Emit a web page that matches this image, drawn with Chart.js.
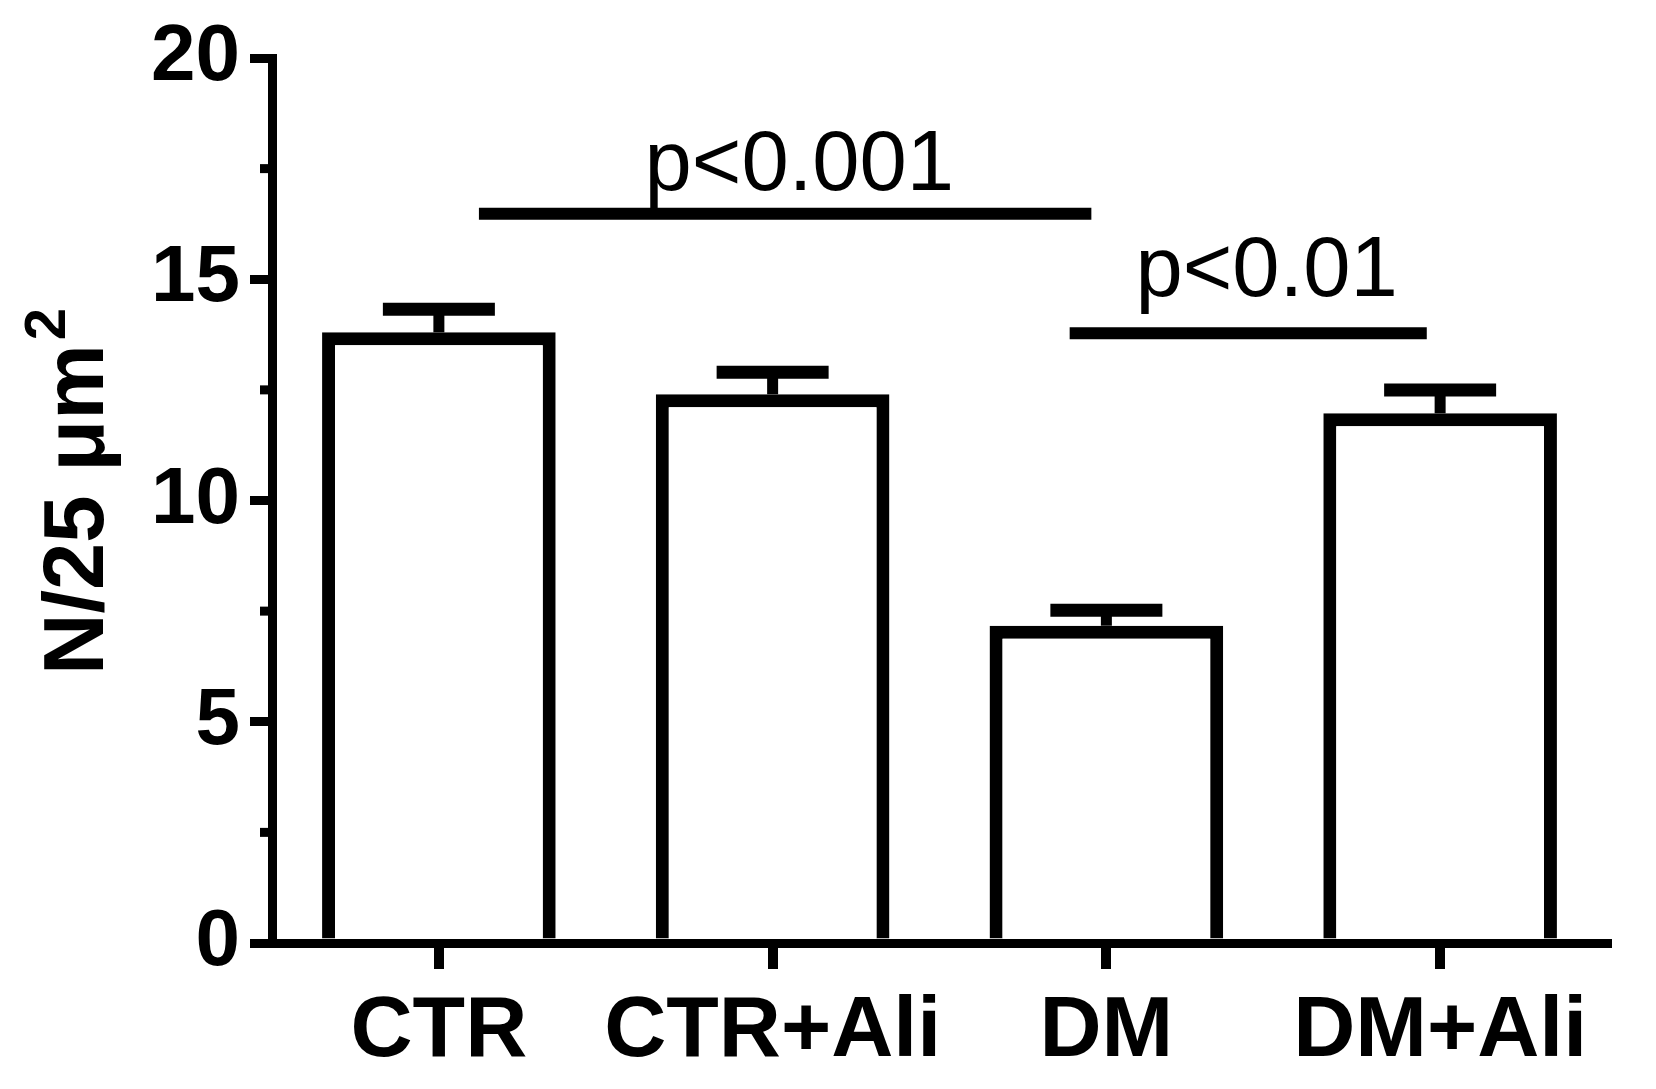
<!DOCTYPE html>
<html><head><meta charset="utf-8">
<script src="https://cdn.jsdelivr.net/npm/chart.js@4.4.1/dist/chart.umd.min.js"></script>
<style>
html,body{margin:0;padding:0;background:#fff}
#wrap{width:1656px;height:1089px}
</style></head>
<body><div id="wrap"><canvas id="c" width="1656" height="1089"></canvas></div>
<script>
// values
const groups=['CTR','CTR+Ali','DM','DM+Ali']
const means=[13.80,12.40,7.17,11.97]
const sems=[0.52,0.50,0.35,0.53]
const yMinorTicks=[2.5,7.5,12.5,17.5]
// significance brackets (category index / y units)
const sigLabels=['p<0.001','p<0.01']
const sigFrom=[0.12,1.89]
const sigTo=[1.955,2.96]
const sigLevel=[16.48,13.78]
const sigLabelX=[1.08,2.48]
const sigLabelY=[17.02,14.63]
const yTitle=['N/25 μm','2']

const FONT='"Liberation Sans", Arial, sans-serif'

const extras={id:'extras',
  afterDatasetsDraw(chart){
    const ctx=chart.ctx,x=chart.scales.x,y=chart.scales.y
    ctx.save()
    ctx.strokeStyle='#000';ctx.lineCap='butt'
    means.forEach((m,i)=>{
      const cx=x.getPixelForValue(i),y0=y.getPixelForValue(m),y1=y.getPixelForValue(m+sems[i])
      ctx.lineWidth=11
      ctx.beginPath();ctx.moveTo(cx,y0);ctx.lineTo(cx,y1);ctx.stroke()
      ctx.lineWidth=13
      ctx.beginPath();ctx.moveTo(cx-56,y1);ctx.lineTo(cx+56,y1);ctx.stroke()
    })
    ctx.lineWidth=12
    sigLabels.forEach((t,i)=>{
      const yy=y.getPixelForValue(sigLevel[i])
      ctx.beginPath();ctx.moveTo(x.getPixelForValue(sigFrom[i]),yy);ctx.lineTo(x.getPixelForValue(sigTo[i]),yy);ctx.stroke()
      ctx.fillStyle='#000';ctx.font='85px '+FONT;ctx.textAlign='center';ctx.textBaseline='alphabetic'
      ctx.fillText(t,x.getPixelForValue(sigLabelX[i]),y.getPixelForValue(sigLabelY[i]))
    })
    ctx.restore()
  },
  afterDraw(chart){
    const ctx=chart.ctx,y=chart.scales.y,a=chart.chartArea
    ctx.save()
    // minor ticks on the y axis
    ctx.strokeStyle='#000';ctx.lineWidth=9
    yMinorTicks.forEach(v=>{const p=y.getPixelForValue(v);ctx.beginPath();ctx.moveTo(a.left-12,p);ctx.lineTo(a.left,p);ctx.stroke()})
    // y title with superscript
    ctx.translate(a.left-169,(a.top+a.bottom)/2-9)
    ctx.rotate(-Math.PI/2)
    ctx.fillStyle='#000';ctx.textAlign='left';ctx.textBaseline='alphabetic'
    ctx.font='bold 85px '+FONT
    const w1=ctx.measureText(yTitle[0]).width
    ctx.font='bold 58px '+FONT
    const w2=ctx.measureText(yTitle[1]).width
    const s=-(w1+4+w2)/2
    ctx.font='bold 85px '+FONT;ctx.fillText(yTitle[0],s,0)
    ctx.font='bold 58px '+FONT;ctx.fillText(yTitle[1],s+w1+4,-38)
    ctx.restore()
  }
}

new Chart(document.getElementById('c'),{
  type:'bar',
  data:{labels:groups,datasets:[{data:means,backgroundColor:'#fff',borderColor:'#000',borderWidth:13,borderSkipped:'start',barPercentage:0.70,categoryPercentage:1}]},
  options:{
    responsive:false,animation:false,devicePixelRatio:1,
    layout:{padding:{top:56,right:49,left:0,bottom:0}},
    plugins:{legend:{display:false},tooltip:{enabled:false}},
    scales:{
      x:{z:1,
        grid:{drawOnChartArea:false,drawTicks:true,tickLength:26,lineWidth:10,color:'#000',offset:false},
        border:{display:true,color:'#000',width:9},
        ticks:{color:'#000',font:{family:FONT,size:86,weight:'bold'},padding:12,maxRotation:0,autoSkip:false},
        afterFit(s){s.height=146}},
      y:{z:1,min:0,max:20,
        ticks:{stepSize:5,color:'#000',font:{family:FONT,size:80,weight:'bold'},padding:10},
        grid:{drawOnChartArea:false,tickLength:22,lineWidth:9,color:'#000'},
        border:{display:true,color:'#000',width:9},
        afterFit(s){s.width=272}}
    }
  },
  plugins:[extras]
})
</script>
</body></html>
